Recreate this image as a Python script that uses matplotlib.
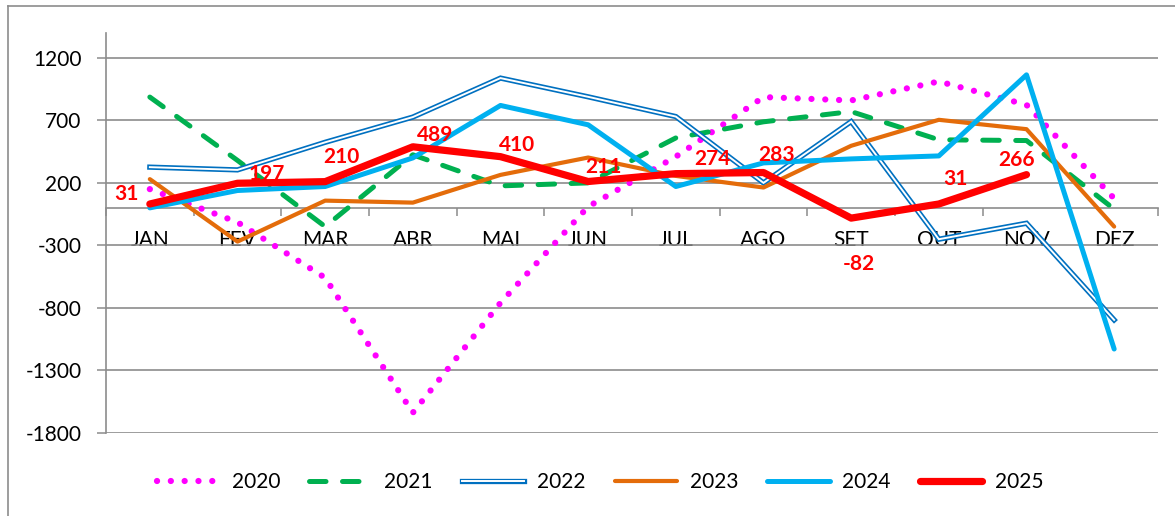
import matplotlib
matplotlib.use("Agg")
import matplotlib.pyplot as plt
from matplotlib.lines import Line2D
from matplotlib.legend_handler import HandlerTuple
from matplotlib.ticker import FixedLocator

plt.rcParams['font.family'] = ['Lato', 'DejaVu Sans']

months = ["JAN", "FEV", "MAR", "ABR", "MAI", "JUN", "JUL", "AGO", "SET", "OUT", "NOV", "DEZ"]
y2020 = [150, -115, -560, -1640, -760, 10, 410, 887, 860, 1012, 825, 75]
y2021 = [887, 380, -150, 425, 176, 200, 560, 689, 771, 545, 539, -10]
y2022 = [326, 304, 525, 727, 1039, 889, 731, 200, 691, -251, -123, -897]
y2023 = [230, -270, 58, 42, 264, 403, 256, 163, 497, 705, 630, -150]
y2024 = [0, 139, 171, 400, 820, 665, 171, 360, 392, 416, 1065, -1130]
y2025 = [31, 197, 210, 489, 410, 211, 274, 283, -82, 31, 266]
yticks = [-1800, -1300, -800, -300, 200, 700, 1200]

# label offsets (pixels) for 2025 data labels
lab_dx = [-23, 29, 16, 22, 17, 15, 37, 13, 8, 17, -10]
lab_dy = [10, 9, 25, 12, 12, 15, 15, 18, -46, 25, 15]

W, H = 1175, 516
fig = plt.figure(figsize=(W / 100, H / 100), dpi=100)
ax = fig.add_axes([106 / W, 1 - 432.7 / H, (1158 - 106) / W, (432.7 - 33) / H])

grey = '#8c8c8c'
x = list(range(12))

l20, = ax.plot(x, y2020, color='#FF00FF', lw=4.5, dashes=(0.01, 2.2),
               dash_capstyle='round', zorder=3)
l21, = ax.plot(x, y2021, color='#00B050', lw=3.6, dashes=(3.3, 3.3),
               dash_capstyle='round', zorder=3)
l22a, = ax.plot(x, y2022, color='#0070C0', lw=3.8, zorder=3,
                solid_joinstyle='miter')
l22b, = ax.plot(x, y2022, color='white', lw=1.4, zorder=3.1,
                solid_joinstyle='miter')
l23, = ax.plot(x, y2023, color='#E46C0A', lw=3.0, zorder=3.2,
               solid_capstyle='round')
l24, = ax.plot(x, y2024, color='#00B0F0', lw=3.6, zorder=3.3,
               solid_capstyle='round')
l25, = ax.plot(x[:len(y2025)], y2025, color='#FF0000', lw=5.2, zorder=3.5,
               solid_capstyle='round')

for i, v in enumerate(y2025):
    ax.annotate(f"{v}", (i, v), xytext=(lab_dx[i], lab_dy[i]),
                textcoords='offset pixels', ha='center', va='center',
                color='#FF0000', fontsize=15, fontweight='bold', zorder=5)

ax.set_xlim(-0.5, 11.5)
ax.set_ylim(-1800, 1400)
ax.set_yticks(yticks)
ax.set_yticklabels([str(t) for t in yticks])
ax.yaxis.grid(True, color=grey, lw=1.2)
ax.set_axisbelow(True)

ax.xaxis.set_major_locator(FixedLocator([i - 0.5 for i in range(13)]))
ax.xaxis.set_minor_locator(FixedLocator(x))
ax.set_xticklabels([], minor=False)
ax.set_xticklabels(months, minor=True)
ax.tick_params(axis='x', which='major', direction='out', length=5.5,
               width=1.1, color=grey)
ax.tick_params(axis='x', which='minor', length=0, pad=16, labelsize=15)
ax.tick_params(axis='y', direction='out', length=6.5, width=1.1, color=grey,
               pad=11, labelsize=15)

for s in ['top', 'right']:
    ax.spines[s].set_visible(False)
ax.spines['left'].set_color(grey)
ax.spines['left'].set_linewidth(1.2)
ax.spines['bottom'].set_position(('data', 0))
ax.spines['bottom'].set_color(grey)
ax.spines['bottom'].set_linewidth(1.2)

# outer frame
fig.add_artist(Line2D([7.5 / W, 1], [1 - 5.5 / H] * 2, transform=fig.transFigure,
                      color=grey, lw=1.2))
fig.add_artist(Line2D([7.5 / W] * 2, [0, 1 - 5.5 / H], transform=fig.transFigure,
                      color=grey, lw=1.2))

handles = [l20, l21, (l22a, l22b), l23, l24, l25]
labels = ["2020", "2021", "2022", "2023", "2024", "2025"]
fig.legend(handles, labels, loc='center', bbox_to_anchor=(600 / W, 1 - 482 / H),
           ncol=6, frameon=False, fontsize=15, handlelength=3.0,
           handletextpad=0.6, columnspacing=1.4,
           handler_map={tuple: HandlerTuple(ndivide=1)})

fig.savefig("out.png", dpi=100)
